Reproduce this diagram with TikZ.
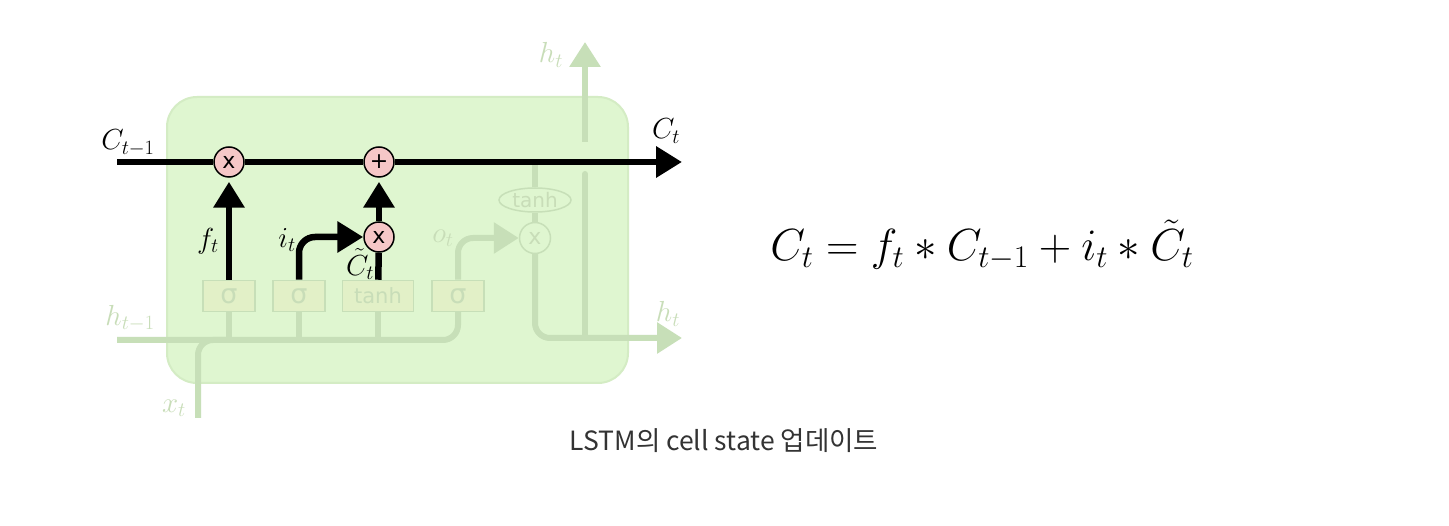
\RequirePackage{fix-cm}
\documentclass[tikz,border=0pt]{standalone}
\usepackage{fontspec}
\newfontfamily\cjk{Noto Sans CJK KR}
\newfontfamily\dv{DejaVu Sans}
\usetikzlibrary{arrows.meta,shapes.geometric}
\definecolor{bgg}{RGB}{223,246,208}
\definecolor{bgb}{RGB}{212,236,196}
\definecolor{fline}{RGB}{199,223,184}
\definecolor{fbox}{RGB}{226,240,199}
\definecolor{ftext}{RGB}{200,221,184}
\definecolor{pinkc}{RGB}{245,199,199}
\definecolor{captc}{RGB}{51,51,51}
\tikzset{
  bar/.style={line width=6.5pt, draw=black},
  btip/.style={-{Triangle[length=26pt,width=30pt]}},
  fl/.style={line width=6pt, draw=fline},
  ftip/.style={-{Triangle[length=25pt,width=30pt]}},
  gatebox/.style={draw=fline, fill=fbox, line width=1.5pt, text=ftext, inner sep=0pt,
    minimum width=52pt, minimum height=31pt, font=\dv\fontsize{27}{30}\selectfont},
  opc/.style={circle, draw=black, fill=pinkc, line width=1.5pt, minimum size=30pt, inner sep=0pt,
    font=\dv\fontsize{22}{24}\selectfont},
  fopc/.style={circle, draw=fline, fill=bgg, line width=1.5pt, minimum size=31pt, inner sep=0pt,
    text=ftext, font=\dv\fontsize{22}{24}\selectfont},
  lbl/.style={font=\fontsize{29}{32}\selectfont, inner sep=0pt},
  flbl/.style={lbl, text=ftext},
}
\begin{document}
\begin{tikzpicture}[x=1pt,y=-1pt]
\useasboundingbox (0,0) rectangle (1449,526);
\fill[white] (0,0) rectangle (1449,526);
% cell body
\draw[rounded corners=30pt, fill=bgg, draw=bgb, line width=2pt] (167,97) rectangle (628,383);
% coordinates
\coordinate (cin) at (117,162);
\coordinate (cout) at (682,162);
\coordinate (hin) at (117,340);
\coordinate (hout) at (682,338);
\coordinate (xin) at (198,418);
\coordinate (hsplit) at (585,338);
\coordinate (gapb) at (585,174);
\coordinate (gapt) at (585,142);
\coordinate (htop) at (585,42);
% gate boxes
\node[gatebox] (s1) at (229,296) {σ};
\node[gatebox] (s2) at (299,296) {σ};
\node[gatebox, minimum width=71pt, font=\dv\fontsize{21}{24}\selectfont] (tb) at (378,296) {tanh};
\node[gatebox] (s4) at (458,296) {σ};
% faded output part
\node[fopc] (mul3) at (535,238) {x};
\node[draw=fline, fill=bgg, line width=1.5pt, ellipse, minimum width=72pt, minimum height=24pt,
  inner sep=0pt, text=ftext, font=\dv\fontsize{20}{24}\selectfont] (tanh2) at (535,200) {tanh};
% faded connectors
\draw[fl, rounded corners=15pt] (hin) -| (s4.south);
\draw[fl, rounded corners=15pt] (xin) |- (s1.south |- hin);
\draw[fl] (s1.south) -- (s1.south |- hin);
\draw[fl] (s2.south) -- (s2.south |- hin);
\draw[fl] (tb.south) -- (tb.south |- hin);
\draw[fl, ftip, rounded corners=15pt] (s4.north) |- (mul3.west);
\draw[fl] (tanh2) -- (tanh2 |- cin);
\draw[fl] (mul3) -- (tanh2);
\draw[fl, ftip, rounded corners=15pt] (mul3) |- (hout);
\draw[fl, line cap=round] (hsplit) -- (gapb);
\draw[fl, ftip] (gapt) -- (htop);
% black ops
\node[opc] (mul1) at (229,162) {x};
\node[opc] (add) at (379,162) {+};
\node[opc] (mul2) at (379,237) {x};
% black connectors
\draw[bar] (cin) -- (mul1);
\draw[bar] (mul1) -- (add);
\draw[bar, btip] (add) -- (cout);
\draw[bar, btip, shorten >=4pt] (s1) -- (mul1);
\draw[bar, btip, rounded corners=16pt] (s2.north) |- (mul2.west);
\draw[bar] (tb) -- (mul2);
\draw[bar, btip, shorten >=4pt] (mul2) -- (add);
% labels
\node[lbl] (lcin) at (128,143) {$C_{t-1}$};
\node[lbl] (lcout) at (666,131) {$C_t$};
\node[lbl] (lf) at (208,241) {$f_t$};
\node[lbl] (li) at (287,240) {$i_t$};
\node[lbl] (lct) at (360,264) {$\tilde{C}_t$};
\node[flbl] (lo) at (443,238) {$o_t$};
\node[flbl] (lhin) at (130,318) {$h_{t-1}$};
\node[flbl] (lx) at (174,408) {$x_t$};
\node[flbl] (lhtop) at (551,55) {$h_t$};
\node[flbl] (lhout) at (668,314) {$h_t$};
% equation
\node[inner sep=0pt, font=\fontsize{45}{50}\selectfont] (eq) at (982,245) {$C_t = f_t * C_{t-1} + i_t * \tilde{C}_t$};
% caption
\node[inner sep=0pt, text=captc, font=\cjk\fontsize{26.5}{30}\selectfont] (cap) at (724,441) {LSTM의 cell state 업데이트};
\end{tikzpicture}
\end{document}
